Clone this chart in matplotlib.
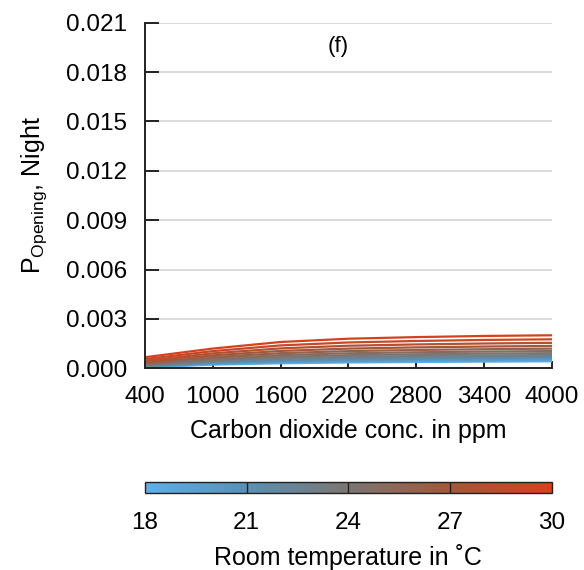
import numpy as np
import matplotlib
import matplotlib.pyplot as plt
from matplotlib.colors import LinearSegmentedColormap, Normalize
from matplotlib.cm import ScalarMappable

plt.rcParams['font.family'] = ['Liberation Sans', 'DejaVu Sans']
plt.rcParams['mathtext.fontset'] = 'custom'
plt.rcParams['mathtext.rm'] = 'Liberation Sans'
plt.rcParams['mathtext.it'] = 'Liberation Sans'

# CO2 concentration (ppm) where the curves are sampled
co2 = [400, 1000, 1600, 2200, 2800, 3400, 4000]

# room temperatures (deg C), one curve each
temps = [18, 19, 20, 21, 22, 23, 24, 25, 26, 27, 28, 29, 30]

# opening probability at night, in units of 1e-4, one row per temperature
p_open = [
    [0.50, 2.20, 3.00, 3.50, 3.80, 4.00, 4.20],
    [0.65, 2.53, 3.45, 4.01, 4.34, 4.56, 4.78],
    [0.84, 2.92, 3.97, 4.60, 4.97, 5.22, 5.45],
    [1.07, 3.37, 4.56, 5.27, 5.68, 5.96, 6.21],
    [1.34, 3.87, 5.24, 6.04, 6.49, 6.79, 7.07],
    [1.67, 4.46, 6.02, 6.91, 7.42, 7.76, 8.05],
    [2.07, 5.14, 6.92, 7.93, 8.48, 8.86, 9.17],
    [2.55, 5.92, 7.96, 9.08, 9.69, 10.11, 10.44],
    [3.12, 6.82, 9.15, 10.41, 11.09, 11.55, 11.90],
    [3.79, 7.85, 10.51, 11.92, 12.67, 13.18, 13.55],
    [4.58, 9.03, 12.07, 13.67, 14.47, 15.04, 15.43],
    [5.54, 10.39, 13.87, 15.66, 16.56, 17.19, 17.58],
    [6.67, 11.95, 15.94, 17.94, 18.92, 19.62, 20.02],
]

xticks = [400, 1000, 1600, 2200, 2800, 3400, 4000]
yticks = [0.000, 0.003, 0.006, 0.009, 0.012, 0.015, 0.018, 0.021]
cticks = [18, 21, 24, 27, 30]

cmap = LinearSegmentedColormap.from_list(
    'temp', ['#5cb0ec', '#5a90b4', '#7b7672', '#a3583a', '#d8401c'])
norm = Normalize(18, 30)

fig = plt.figure(figsize=(5.84, 5.70), dpi=100)
ax = fig.add_axes([0.248, 0.354, 0.697, 0.606])

for t, row in zip(temps, p_open):
    ax.plot(co2, np.array(row) * 1e-4, color=cmap(norm(t)), lw=1.6,
            solid_joinstyle='round')

ax.set_xlim(400, 4000)
ax.set_ylim(0, 0.021)
ax.set_xticks(xticks)
ax.set_yticks(yticks)
ax.set_yticklabels(['%.3f' % v for v in yticks])
ax.yaxis.grid(True, color='#d4d4d4', lw=1.2)
ax.set_axisbelow(True)
for s in ['top', 'right']:
    ax.spines[s].set_visible(False)
for s in ['left', 'bottom']:
    ax.spines[s].set_color('#222222')
    ax.spines[s].set_linewidth(1.4)
ax.tick_params(axis='y', direction='in', length=10, width=1.4,
               colors='#222222', labelsize=17.5, labelcolor='black', pad=13)
ax.tick_params(axis='x', direction='in', length=5, width=1.4,
               colors='#222222', labelsize=17.5, labelcolor='black', pad=13)
ax.set_xlabel('Carbon dioxide conc. in ppm', fontsize=18, labelpad=8)
ax.set_ylabel(r'$\mathrm{P}_{\mathrm{Opening}}$, Night', fontsize=18,
              labelpad=12)
ax.text(0.475, 0.93, '(f)', transform=ax.transAxes, fontsize=16,
        ha='center', va='center')

cax = fig.add_axes([0.248, 0.135, 0.697, 0.019])
cb = fig.colorbar(ScalarMappable(norm=norm, cmap=cmap), cax=cax,
                  orientation='horizontal')
cb.set_ticks(cticks)
cb.outline.set_linewidth(1.0)
cb.outline.set_edgecolor('#222222')
cax.tick_params(length=0, labelsize=17.5, pad=14)
for t in cticks[1:-1]:
    cax.axvline(t, color='#222222', lw=1.0)
cb.set_label('Room temperature in \u02daC', fontsize=18, labelpad=7)

fig.savefig('out.png', dpi=100)
